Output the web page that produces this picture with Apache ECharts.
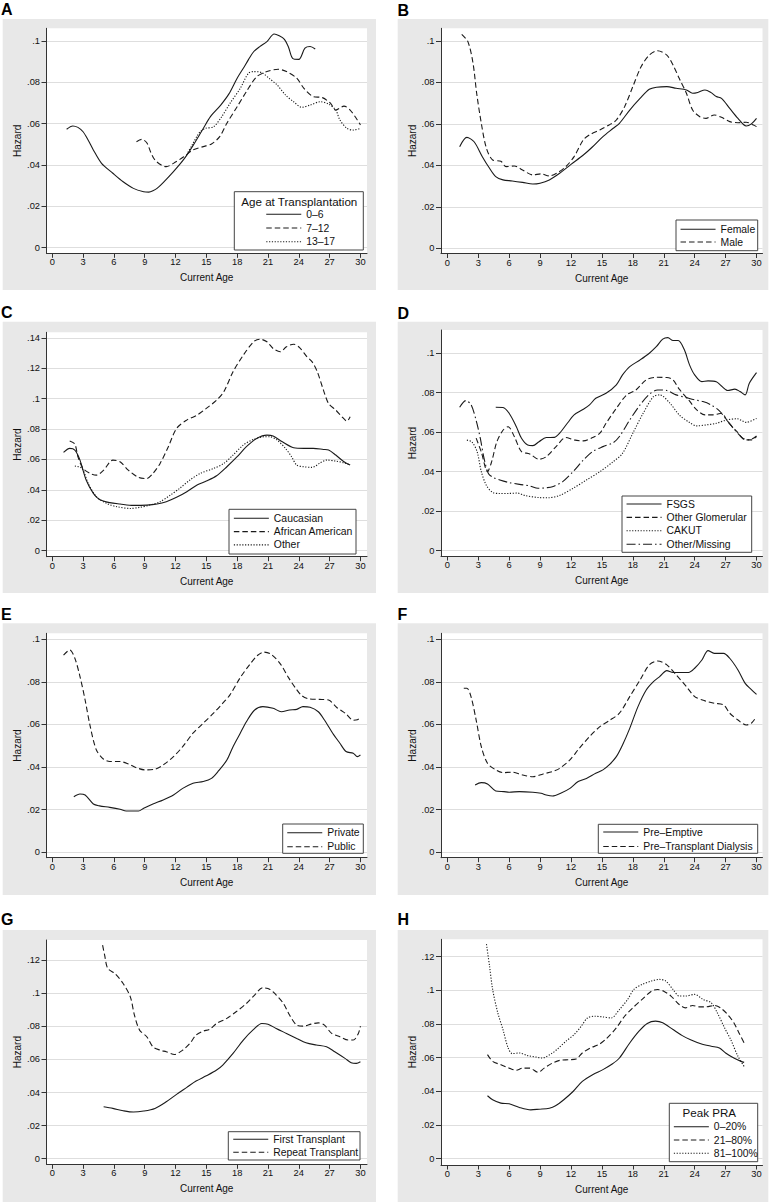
<!DOCTYPE html>
<html><head><meta charset="utf-8">
<script src="https://cdn.jsdelivr.net/npm/echarts@6/dist/echarts.min.js"></script>
<style>html,body{margin:0;padding:0;background:#fff}#c{width:772px;height:1202px}</style>
</head><body><div id="c"></div>
<script>
// ---------- tick labels ----------
const xTicks = [0,3,6,9,12,15,18,21,24,27,30];
const yTicks10 = [0,0.02,0.04,0.06,0.08,0.1];
const yTicks12 = [0,0.02,0.04,0.06,0.08,0.1,0.12];
const yTicks14 = [0,0.02,0.04,0.06,0.08,0.1,0.12,0.14];
const xTitle = 'Current Age';
const yTitle = 'Hazard';
const legendTitleA = 'Age at Transplantation';
const legendTitleH = 'Peak PRA';

// ---------- A: Age at Transplantation ----------
const A_0_6 = [[1.4,.0573],[2.0,.0589],[2.5,.0582],[3.0,.0561],[3.5,.052],[4.0,.0473],[4.8,.0408],[5.9,.036],[6.9,.0319],[7.9,.0287],[8.9,.0271],[9.4,.0269],[9.8,.0275],[10.2,.0287],[10.8,.0315],[11.8,.0368],[12.8,.0427],[13.7,.0494],[14.7,.0577],[15.4,.0634],[16.4,.069],[17.2,.0744],[18,.082],[18.6,.0868],[19.1,.091],[19.6,.0948],[20.2,.0973],[20.9,.0997],[21.6,.1034],[22.1,.1025],[22.6,.1008],[23.0,.097],[23.4,.0916],[24.0,.0911],[24.6,.0965],[25.1,.0973],[25.6,.0961]];
const A_7_12 = [[8.2,.0513],[8.7,.0524],[9.2,.0508],[9.6,.046],[10.0,.0424],[10.7,.0397],[11.1,.0392],[11.8,.0408],[12.8,.044],[13.7,.0473],[14.7,.0489],[15.5,.0502],[16.3,.0537],[17,.0602],[18,.0682],[18.9,.0755],[19.9,.0827],[20.9,.0852],[22,.0863],[22.8,.0852],[23.8,.082],[24.5,.0771],[25.4,.0731],[26.3,.0726],[27.1,.0698],[27.6,.0666],[28.4,.0685],[29.0,.0666],[29.7,.0618],[30,.0594]];
const A_13_17 = [[13.2,.046],[13.6,.0495],[14.1,.054],[14.4,.0561],[14.9,.0577],[15.7,.0585],[16.5,.0634],[17.3,.0698],[18.3,.0771],[19.1,.0844],[19.6,.0852],[20.4,.0847],[21.1,.082],[21.9,.0787],[22.7,.0739],[23.5,.0706],[24.3,.0679],[25.1,.069],[26.1,.0706],[26.9,.0695],[27.6,.0666],[28,.0618],[28.7,.0577],[29.3,.0569],[30,.0577]];

// ---------- B: Sex ----------
const B_female = [[1.2,.049],[1.9,.0535],[2.6,.0514],[3.4,.0442],[4.1,.0386],[4.7,.0346],[5.4,.033],[6.3,.0325],[7.3,.0318],[8.3,.031],[9,.0314],[9.9,.033],[10.9,.0362],[12,.0405],[13.2,.045],[14.1,.049],[15.1,.0539],[16.1,.0579],[16.7,.0603],[17.7,.0667],[18.7,.0723],[19.6,.0767],[20.3,.0777],[21.3,.078],[22.2,.0772],[23.2,.0764],[23.8,.0748],[24.3,.0752],[25,.0764],[25.6,.0751],[26.1,.0732],[26.6,.0723],[27.4,.0675],[28.2,.0627],[29,.059],[29.5,.06],[30,.0627]];
const B_male = [[1.4,.1032],[2.0,.0997],[2.5,.0892],[2.85,.0748],[3.3,.0603],[3.8,.0482],[4.4,.0426],[5.2,.042],[5.7,.0394],[6.5,.0397],[7.3,.0378],[8.3,.0354],[9.1,.0359],[9.9,.0349],[10.6,.0362],[11.5,.0394],[12.3,.0442],[13.2,.0523],[13.8,.0547],[14.8,.0571],[15.7,.0595],[16.4,.0619],[17.2,.0683],[18,.078],[18.8,.0876],[19.6,.0932],[20.4,.0953],[21.3,.0932],[21.9,.0884],[22.5,.082],[23.2,.0748],[23.8,.0667],[24.5,.0635],[25.1,.0627],[25.9,.0643],[26.6,.0632],[27.4,.0611],[28.2,.0606],[29,.0608],[29.7,.0595],[30,.0587]];

// ---------- C: Race ----------
const C_cauc = [[1.1,.0646],[1.7,.0673],[2.2,.0662],[2.7,.0596],[3.3,.0465],[4,.0377],[4.6,.0337],[5.6,.0316],[6.6,.0307],[7.9,.0298],[9.2,.03],[10.2,.0307],[11.1,.0322],[12.1,.0351],[13.1,.0388],[14.1,.0432],[15,.0458],[16,.0493],[17,.0552],[18,.0618],[18.9,.0684],[19.9,.0738],[20.9,.076],[21.5,.0754],[22.4,.0716],[23.5,.0677],[24.5,.0673],[25.4,.0673],[26.4,.0666],[26.9,.0662],[27.6,.0629],[28.4,.0585],[29,.0563]];
const C_afam = [[1.7,.0721],[2.2,.0701],[2.5,.0618],[3,.0541],[3.7,.0508],[4.3,.0497],[5,.053],[5.9,.0596],[6.6,.0585],[7.4,.053],[8.4,.0482],[9.2,.0475],[9.8,.0508],[10.5,.0574],[11.3,.0684],[12.1,.0804],[13.1,.0859],[14.1,.0892],[15,.0936],[16,.099],[16.7,.1045],[17.6,.1177],[18.6,.1286],[19.6,.1374],[20.2,.1391],[20.9,.1374],[21.5,.133],[22.2,.1308],[22.8,.1341],[23.5,.1358],[24.1,.1334],[24.8,.1275],[25.3,.1242],[25.8,.1177],[26.4,.1056],[26.9,.0968],[27.6,.0925],[28.2,.0881],[28.7,.0852],[29,.0881]];
const C_other = [[2.2,.0557],[2.9,.0541],[3.5,.0443],[4.3,.0355],[5.3,.0311],[6.3,.0289],[7.6,.0278],[8.5,.0285],[9.5,.03],[10.5,.0322],[11.5,.0366],[12.4,.041],[13.4,.0465],[14.4,.0508],[15.7,.0541],[16.7,.0574],[17.6,.0629],[18.6,.0695],[19.6,.0732],[20.6,.0749],[21.2,.0749],[21.9,.0727],[22.7,.0673],[23.3,.0618],[23.8,.0563],[24.5,.0552],[25.3,.0548],[26.1,.0578],[26.7,.0596],[27.6,.0589],[28.4,.0578],[29,.0563]];

// ---------- D: Diagnosis ----------
const D_fsgs = [[4.7,.0726],[5.4,.0725],[6,.0696],[6.7,.0628],[7.2,.0569],[7.8,.0535],[8.3,.0532],[8.9,.0552],[9.6,.0573],[10.4,.0574],[10.9,.0595],[11.7,.0649],[12.3,.0688],[13.2,.0716],[13.8,.0738],[14.4,.0772],[15.4,.0797],[16.4,.084],[17,.089],[17.7,.0932],[18.7,.0966],[19.6,.1],[20.3,.1034],[20.9,.1071],[21.4,.1079],[21.9,.1064],[22.4,.1064],[23,.1017],[23.5,.0941],[24,.089],[24.7,.0856],[25.3,.086],[26.1,.0856],[26.6,.0834],[27.2,.0811],[27.9,.0818],[28.4,.0806],[28.9,.0789],[29.3,.0848],[30,.0902]];
const D_glom = [[2.8,.057],[3.3,.05],[3.9,.04],[4.3,.045],[4.8,.055],[5.4,.061],[5.9,.0628],[6.5,.0578],[7.2,.0502],[8,.049],[8.9,.0463],[9.6,.0476],[10.6,.053],[11.5,.0573],[12.3,.0561],[13.2,.0556],[14.1,.0573],[14.8,.0595],[15.4,.0645],[16.4,.0721],[17.4,.0789],[18.3,.0814],[19.3,.0865],[20.3,.0878],[21.3,.0877],[21.9,.0865],[22.5,.0818],[23.4,.0764],[24.2,.0713],[25,.0688],[25.8,.0688],[26.6,.0696],[27.2,.0654],[28.1,.0603],[28.9,.0561],[29.5,.0561],[30,.0578]];
const D_cakut = [[1.9,.056],[2.4,.055],[2.9,.05],[3.3,.04],[3.8,.033],[4.4,.0295],[5,.029],[6,.029],[6.8,.0292],[7.5,.028],[8.9,.0269],[9.8,.0268],[10.9,.028],[12.2,.0316],[13.5,.0358],[14.8,.04],[16.1,.0451],[17,.0493],[18,.0595],[19,.0696],[20,.078],[20.6,.0789],[21.6,.0747],[22.5,.0688],[23.5,.0649],[24.2,.0632],[25.1,.0637],[26.1,.0645],[27.1,.0662],[28.1,.0668],[29,.065],[30,.067]];
const D_other = [[1.2,.0726],[1.8,.076],[2.3,.074],[2.8,.066],[3.2,.057],[3.6,.046],[4.0,.039],[4.5,.037],[5.1,.0358],[6,.0345],[7,.0336],[8,.0328],[8.8,.0316],[9.6,.0319],[10.2,.0324],[11.2,.035],[12.2,.04],[13.2,.0459],[14.1,.0502],[15.1,.0527],[16.1,.0547],[16.7,.0578],[17.7,.0662],[18.7,.0738],[19.6,.0792],[20.4,.0814],[21.3,.0811],[22.2,.0789],[23.2,.0775],[24,.0764],[24.8,.0755],[25.6,.0738],[26.4,.0708],[27.1,.0662],[27.9,.0611],[28.7,.0569],[29.3,.0561],[30,.0581]];

// ---------- E: Insurance ----------
const E_private = [[2.1,.0261],[2.7,.0274],[3.2,.0269],[4,.0227],[4.6,.0218],[5.6,.0211],[6.6,.0202],[7.2,.0194],[8.4,.0194],[8.9,.0207],[9.8,.0227],[10.8,.0246],[11.8,.0269],[12.7,.03],[13.7,.0324],[14.7,.0332],[15.5,.0347],[16.2,.0383],[17,.0433],[17.6,.0496],[18.3,.0559],[18.9,.0613],[19.7,.0668],[20.5,.0684],[21.5,.0676],[22.3,.066],[23.1,.0668],[23.8,.0671],[24.4,.0684],[25.1,.0681],[25.9,.066],[26.5,.0621],[27.3,.0559],[28,.0512],[28.6,.0473],[29.3,.0465],[29.7,.0449],[30,.0457]];
const E_public = [[1.1,.0926],[1.7,.095],[2.2,.0911],[2.7,.0825],[3.2,.0715],[3.7,.059],[4.3,.048],[5,.0437],[5.6,.0426],[6.6,.0426],[7.4,.0415],[8.2,.0397],[9,.0387],[10,.039],[10.8,.041],[11.8,.0449],[12.7,.0496],[13.7,.0559],[14.7,.0606],[15.7,.0653],[16.6,.07],[17.3,.0739],[18.3,.082],[19.2,.088],[20,.0925],[20.6,.094],[21.3,.093],[22.2,.0885],[23,.082],[23.7,.077],[24.3,.0735],[25,.072],[26,.0718],[26.9,.0715],[27.7,.068],[28.6,.065],[29.3,.062],[29.7,.0622],[30,.0635]];

// ---------- F: Dialysis before transplant ----------
const F_pre = [[2.7,.0316],[3.3,.0327],[3.9,.0321],[4.7,.0288],[5.5,.0285],[6,.0282],[7,.0285],[8.3,.0282],[9.1,.0277],[9.6,.0269],[10.2,.0264],[11,.0277],[11.9,.03],[12.7,.0332],[13.5,.0347],[14.4,.0371],[15.1,.0387],[15.7,.041],[16.4,.0449],[17,.0504],[17.7,.0582],[18.5,.0684],[19.3,.0762],[20,.0801],[20.6,.0825],[21.3,.0853],[21.9,.0844],[22.5,.0844],[23.4,.0844],[24,.0864],[24.7,.0903],[25.3,.0947],[25.9,.0934],[26.8,.0934],[27.4,.0911],[28.2,.0856],[28.9,.0793],[29.5,.0764],[30,.0741]];
const F_dial = [[1.6,.077],[1.9,.077],[2.3,.0731],[2.8,.0621],[3.3,.0496],[3.9,.0418],[4.7,.0387],[5.4,.0374],[6.3,.0376],[7.3,.0363],[8.3,.0355],[9.3,.0368],[10.2,.0379],[10.9,.0394],[11.9,.0434],[12.8,.0488],[13.8,.0543],[14.8,.059],[15.7,.0618],[16.7,.0653],[17.7,.0731],[18.7,.0809],[19.6,.088],[20.4,.0898],[21.3,.088],[22.2,.0833],[23.2,.0778],[24,.0731],[25,.0711],[25.9,.07],[26.8,.0692],[27.4,.0653],[28.2,.0621],[29,.0598],[29.5,.0606],[30,.0637]];

// ---------- G: Transplant number ----------
const G_first = [[5,.0314],[5.9,.0304],[6.9,.029],[7.9,.0282],[8.9,.0288],[10,.0304],[11.1,.0344],[12.1,.0389],[13.1,.0431],[14,.0469],[15,.0501],[16,.0536],[16.6,.0566],[17.6,.0636],[18.6,.0717],[19.6,.0781],[20.4,.0817],[21,.0813],[21.8,.0787],[22.8,.0757],[23.8,.0727],[24.7,.0701],[25.7,.0687],[26.7,.0676],[27.5,.0646],[28.5,.0606],[29.1,.058],[29.6,.0576],[30,.0586]];
const G_repeat = [[4.9,.129],[5.1,.123],[5.4,.115],[6.1,.1119],[6.9,.1059],[7.6,.0978],[8,.0868],[8.5,.0777],[9.2,.0737],[9.8,.0676],[10.5,.0656],[11.1,.0646],[11.9,.063],[12.7,.0656],[13.4,.0697],[14,.0747],[14.7,.0771],[15.3,.0781],[16,.0817],[17,.0848],[17.9,.0888],[18.9,.0938],[19.7,.0989],[20.5,.1033],[21.2,.1023],[21.8,.0989],[22.5,.0938],[23.1,.0868],[23.8,.0807],[24.4,.0801],[25.2,.0813],[25.9,.0821],[26.5,.0807],[27.2,.0757],[28,.0737],[28.8,.0717],[29.3,.0717],[29.8,.0757],[30,.0801]];

// ---------- H: Peak PRA ----------
const H_0_20 = [[3.9,.0374],[4.4,.035],[5.2,.033],[6,.0326],[7,.0304],[8.1,.029],[8.9,.0294],[9.9,.03],[10.5,.0314],[11.3,.035],[12.2,.0399],[13.1,.0459],[14.1,.0499],[15.1,.0529],[16,.0562],[16.7,.0598],[17.7,.0687],[18.6,.0757],[19.4,.0803],[20.2,.0817],[20.9,.0807],[21.9,.0767],[22.8,.0731],[23.6,.0707],[24.6,.0683],[25.6,.0668],[26.4,.0658],[27,.0628],[27.8,.0598],[28.5,.0578],[28.8,.0572]];
const H_21_80 = [[3.9,.0618],[4.4,.0578],[5.2,.0558],[6,.0538],[6.7,.0525],[7.3,.0538],[8,.0538],[8.8,.0513],[9.4,.0538],[10.2,.0568],[10.9,.0584],[11.8,.0588],[12.5,.0592],[13.1,.0628],[13.9,.0658],[14.7,.0678],[15.4,.0711],[16.4,.0777],[17.2,.0846],[18,.0896],[18.9,.0946],[19.8,.0995],[20.4,.1005],[21,.0995],[21.7,.0966],[22.5,.0916],[23.1,.0896],[23.8,.091],[24.4,.0902],[25.1,.0902],[25.9,.091],[26.5,.0896],[27.2,.0856],[27.8,.0807],[28.3,.0747],[28.8,.0687]];
const H_81_100 = [[3.8,.1274],[4.1,.1144],[4.4,.1005],[4.9,.0866],[5.4,.0767],[5.9,.0658],[6.3,.0624],[7,.0628],[7.8,.0612],[8.6,.0604],[9.2,.0598],[10.1,.0624],[10.7,.0652],[11.5,.0697],[12.3,.0737],[13,.0787],[13.6,.0836],[14.3,.0846],[15.1,.0842],[15.9,.0836],[16.7,.0886],[17.5,.0946],[18.1,.1005],[18.9,.1035],[19.8,.1055],[20.6,.1065],[21.2,.1055],[21.9,.1005],[22.5,.0966],[23.1,.0966],[24,.0976],[24.8,.0946],[25.6,.0926],[26.2,.0866],[26.9,.0777],[27.5,.0707],[28.2,.0608],[28.8,.0548]];

// ---------- layout (positions/styles only) ----------
const FONT = '"Liberation Sans", Arial, Helvetica, sans-serif';
const INK = '#111';
const LINE = '#1a1a1a';
const DASH = {solid: 'solid', dash: [5.5, 3], dot: [1.2, 1.6], dashdot: [9, 3, 1.5, 3]};
const cols = [
  {left: 46.5, width: 320.5, xMin: -0.56, xMax: 30.64, bgX: 2.7, bgW: 373.3, letterX: 1, nameGap: 24.5},
  {left: 441, width: 321.5, xMin: -0.61, xMax: 30.58, bgX: 397.7, bgW: 370.6, letterX: 397.5, nameGap: 24}
];
const rowsBg = [[19, 290], [321.7, 593], [623.3, 895], [930, 1210]];
const panels = [
  {letter:'A', col:0, row:0, top:28.3, bottom:253.3, yMin:-0.00271, yMax:0.10614, yTicks:yTicks10, letterY:9.5,
   series:[['0–6',A_0_6,'solid'],['7–12',A_7_12,'dash'],['13–17',A_13_17,'dot']],
   legend:{left:265.7, top:209.3, gap:3.7}, box:[234.3,191.7,129,58.3], ltitle:[legendTitleA,299.3,201]},
  {letter:'B', col:1, row:0, top:28.3, bottom:253.5, yMin:-0.00251, yMax:0.10613, yTicks:yTicks10, letterY:10,
   series:[['Female',B_female,'solid'],['Male',B_male,'dash']],
   legend:{left:680, top:224.3, gap:2.7}, box:[676,220,81.7,30.7]},
  {letter:'C', col:0, row:1, top:332.3, bottom:556.7, yMin:-0.00394, yMax:0.14363, yTicks:yTicks14, letterY:312,
   series:[['Caucasian',C_cauc,'solid'],['African American',C_afam,'dash'],['Other',C_other,'dot']],
   legend:{left:233.3, top:513.3, gap:3.3}, box:[229,509.3,127,44.7]},
  {letter:'D', col:1, row:1, top:330, bottom:556, yMin:-0.00268, yMax:0.11175, yTicks:yTicks10, letterY:313,
   series:[['FSGS',D_fsgs,'solid'],['Other Glomerular',D_glom,'dash'],['CAKUT',D_cakut,'dot'],['Other/Missing',D_other,'dashdot']],
   legend:{left:626, top:499, gap:3.4}, box:[622,496,129.7,56.3]},
  {letter:'E', col:0, row:2, top:633.3, bottom:857.7, yMin:-0.00254, yMax:0.10282, yTicks:yTicks10, letterY:614.5,
   series:[['Private',E_private,'solid'],['Public',E_public,'dash']],
   legend:{left:286.7, top:827.7, gap:4}, box:[282.7,824,80.6,29.3]},
  {letter:'F', col:1, row:2, top:633.3, bottom:857.7, yMin:-0.00254, yMax:0.10282, yTicks:yTicks10, letterY:614,
   series:[['Pre–Emptive',F_pre,'solid'],['Pre–Transplant Dialysis',F_dial,'dash']],
   legend:{left:602.7, top:827, gap:4.5}, box:[598.3,824.3,159.4,29]},
  {letter:'G', col:0, row:3, top:940, bottom:1164.3, yMin:-0.00338, yMax:0.13215, yTicks:yTicks12, letterY:919.2,
   series:[['First Transplant',G_first,'solid'],['Repeat Transplant',G_repeat,'dash']],
   legend:{left:232.7, top:1134.3, gap:3}, box:[228.3,1131.7,131.7,28.3]},
  {letter:'H', col:1, row:3, top:939.3, bottom:1165, yMin:-0.00375, yMax:0.13031, yTicks:yTicks12, letterY:919,
   series:[['0–20%',H_0_20,'solid'],['21–80%',H_21_80,'dash'],['81–100%',H_81_100,'dot']],
   legend:{left:673.3, top:1121.7, gap:3.3}, box:[669.3,1103.3,88.4,58.4], ltitle:[legendTitleH,709.3,1112]}
];

const fmtY = v => Math.abs(v) < 1e-9 ? '0' : String(Math.round(v * 100) / 100).replace(/^0\./, '.');

const option = {animation: false, backgroundColor: '#fff', grid: [], xAxis: [], yAxis: [], series: [], legend: [], graphic: []};
const gfx = [];
rowsBg.forEach(r => cols.forEach(c => gfx.push({type:'rect', z:-100, silent:true,
  shape:{x:c.bgX, y:r[0], width:c.bgW, height:r[1]-r[0]}, style:{fill:'#e8e8e8'}})));

panels.forEach((p, i) => {
  const c = cols[p.col];
  option.grid.push({left:c.left, top:p.top, width:c.width, height:p.bottom - p.top, show:true,
    backgroundColor:'#fff', borderWidth:0, containLabel:false});
  option.xAxis.push({type:'value', gridIndex:i, min:c.xMin, max:c.xMax,
    name:xTitle, nameLocation:'middle', nameGap:19.5,
    nameTextStyle:{fontFamily:FONT, fontSize:10, color:INK},
    axisLine:{show:true, onZero:false, lineStyle:{color:'#333', width:1}},
    axisTick:{show:true, length:4.5, customValues:xTicks, lineStyle:{color:'#333'}},
    axisLabel:{customValues:xTicks, margin:4.5, fontFamily:FONT, fontSize:9.3, color:INK, formatter: v => String(v)},
    splitLine:{show:false}});
  option.yAxis.push({type:'value', gridIndex:i, min:p.yMin, max:p.yMax,
    name:yTitle, nameLocation:'middle', nameGap:c.nameGap, nameRotate:90,
    nameTextStyle:{fontFamily:FONT, fontSize:10, color:INK},
    axisLine:{show:true, onZero:false, lineStyle:{color:'#333', width:1}},
    axisTick:{show:true, length:5, customValues:p.yTicks, lineStyle:{color:'#333'}},
    axisLabel:{customValues:p.yTicks, margin:6.5, fontFamily:FONT, fontSize:9.3, color:INK, formatter: fmtY},
    splitLine:{show:true, lineStyle:{color:'#dedede', width:1.2}}});
  p.series.forEach(s => option.series.push({type:'line', name:s[0], data:s[1], xAxisIndex:i, yAxisIndex:i,
    smooth:0.3, symbol:'none', showSymbol:false, silent:true, color:LINE, z:3,
    lineStyle:{color:LINE, width:1.1, type:DASH[s[2]]}}));
  option.legend.push({orient:'vertical', left:p.legend.left, top:p.legend.top, padding:0,
    itemWidth:35, itemHeight:10, itemGap:p.legend.gap, selectedMode:false, z:6,
    data:p.series.map(s => s[0]),
    itemStyle:{opacity:0}, lineStyle:{width:1.1},
    textStyle:{fontFamily:FONT, fontSize:10.4, color:INK, lineHeight:10}});
  gfx.push({type:'rect', z:5, silent:true, shape:{x:p.box[0], y:p.box[1], width:p.box[2], height:p.box[3]},
    style:{fill:'#fff', stroke:'#444', lineWidth:1}});
  if (p.ltitle) gfx.push({type:'text', z:7, silent:true,
    style:{text:p.ltitle[0], x:p.ltitle[1], y:p.ltitle[2], align:'center', verticalAlign:'middle',
      font:'11.6px ' + FONT, fill:INK}});
  gfx.push({type:'text', z:7, silent:true,
    style:{text:p.letter, x:c.letterX, y:p.letterY, align:'left', verticalAlign:'middle',
      font:'bold 16px ' + FONT, fill:'#000'}});
});
option.graphic = [{elements: gfx}];

const chart = echarts.init(document.getElementById('c'), null, {renderer:'svg'});
chart.setOption(option);
</script></body></html>
